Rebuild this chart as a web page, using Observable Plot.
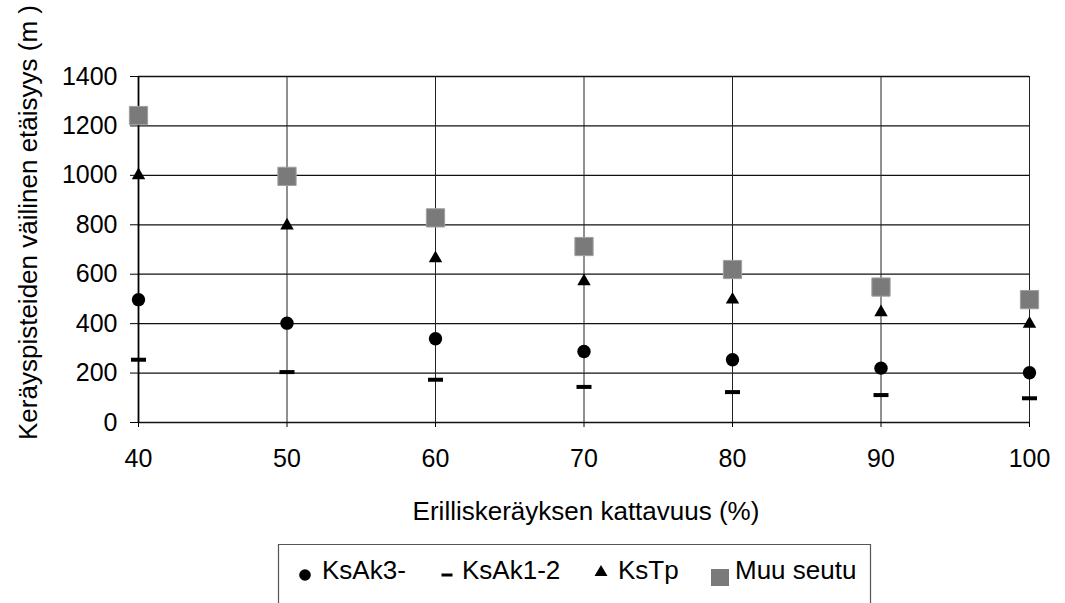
<!DOCTYPE html>
<html><head><meta charset="utf-8">
<script src="https://cdn.jsdelivr.net/npm/d3@7"></script>
<script src="https://cdn.jsdelivr.net/npm/@observablehq/plot@0.6"></script>
<style>
body{margin:0;background:#fff;font-family:"Liberation Sans",Arial,sans-serif}
#chart svg{display:block}
</style>
</head><body><div id="chart"></div><script>
const coverage = [40, 50, 60, 70, 80, 90, 100];
const ksAk3 = [497, 402, 339, 287, 254, 220, 201];
const ksAk12 = [254, 204, 173, 144, 123, 111, 98];
const ksTp = [1000, 797, 664, 571, 497, 446, 399];
const muuSeutu = [1242, 996, 828, 712, 619, 548, 497];
const yTicks = [0, 200, 400, 600, 800, 1000, 1200, 1400];
const xTicks = [40, 50, 60, 70, 80, 90, 100];
const seriesNames = ["KsAk3-", "KsAk1-2", "KsTp", "Muu seutu"];
const xTitle = "Erilliskeräyksen kattavuus (%)";
const yTitle = "Keräyspisteiden väilinen etäisyys (m )";

const rows = vals => coverage.map((x, i) => ({x, y: vals[i]}));
const dashSymbol = {draw(ctx) { ctx.moveTo(-7.5, -2); ctx.lineTo(7.5, -2); ctx.lineTo(7.5, 2); ctx.lineTo(-7.5, 2); ctx.closePath(); }};
const FONT = '"Liberation Sans", Arial, sans-serif';

const chart = Plot.plot({
  width: 1065, height: 540,
  marginLeft: 138, marginRight: 36, marginTop: 76, marginBottom: 118,
  style: {fontFamily: FONT, fontSize: "25px", color: "#000", background: "#fff"},
  x: {domain: [40, 100]},
  y: {domain: [0, 1400]},
  marks: [
    Plot.gridY(yTicks, {stroke: "#111", strokeOpacity: 1, strokeWidth: 1.3}),
    Plot.gridX(xTicks, {stroke: "#222", strokeOpacity: 1, strokeWidth: 1}),
    Plot.ruleX([40], {strokeWidth: 1.8}),
    Plot.axisY(yTicks, {tickSize: 8, tickPadding: 13, label: null, fontSize: 25, tickFormat: d => String(d)}),
    Plot.axisX(xTicks, {tickSize: 5, tickPadding: 22, label: null, fontSize: 25, tickFormat: d => String(d)}),
    Plot.text([xTitle], {text: d => d, frameAnchor: "bottom", dy: 89, dx: 2, fontSize: 26, lineAnchor: "middle", textAnchor: "middle"}),
    Plot.text([yTitle], {text: d => d, frameAnchor: "left", rotate: -90, dx: -110, dy: -27, fontSize: 26, lineAnchor: "middle", textAnchor: "middle"}),
    Plot.dot(rows(ksAk12), {x: "x", y: "y", symbol: dashSymbol, r: 5, fill: "#000"}),
    Plot.dot(rows(ksAk3), {x: "x", y: "y", r: 6.7, fill: "#000"}),
    Plot.dot(rows(ksTp), {x: "x", y: "y", symbol: "triangle", r: 5, fill: "#000"}),
    Plot.dot(rows(muuSeutu), {x: "x", y: "y", symbol: "square", r: 10.3, fill: "#7a7a7a", stroke: "#a0a0a0", strokeWidth: 1})
  ]
});
document.getElementById("chart").appendChild(chart);

// Legend below the plot
const leg = d3.select("#chart").append("svg")
  .attr("width", 1065).attr("height", 63)
  .style("font-family", FONT).style("font-size", "26px");
leg.append("path").attr("d", "M278.5,80V4.5H870.5V80").attr("fill", "none").attr("stroke", "#555").attr("stroke-width", 1.2);
const items = [
  {name: seriesNames[0], sym: "circle", sx: 305, tx: 322},
  {name: seriesNames[1], sym: "dash", sx: 447, tx: 462},
  {name: seriesNames[2], sym: "triangle", sx: 601, tx: 618},
  {name: seriesNames[3], sym: "square", sx: 720, tx: 735}
];
for (const it of items) {
  if (it.sym === "circle") leg.append("circle").attr("cx", it.sx).attr("cy", 35).attr("r", 5.8).attr("fill", "#000");
  else if (it.sym === "dash") leg.append("rect").attr("x", it.sx - 5.5).attr("y", 33.5).attr("width", 11).attr("height", 3).attr("fill", "#000");
  else if (it.sym === "triangle") leg.append("path").attr("d", `M${it.sx},25L${it.sx + 6.5},36L${it.sx - 6.5},36Z`).attr("fill", "#000");
  else leg.append("rect").attr("x", it.sx - 9).attr("y", 29).attr("width", 18).attr("height", 17).attr("fill", "#7a7a7a");
  leg.append("text").attr("x", it.tx).attr("y", 38.5).text(it.name);
}
</script></body></html>
